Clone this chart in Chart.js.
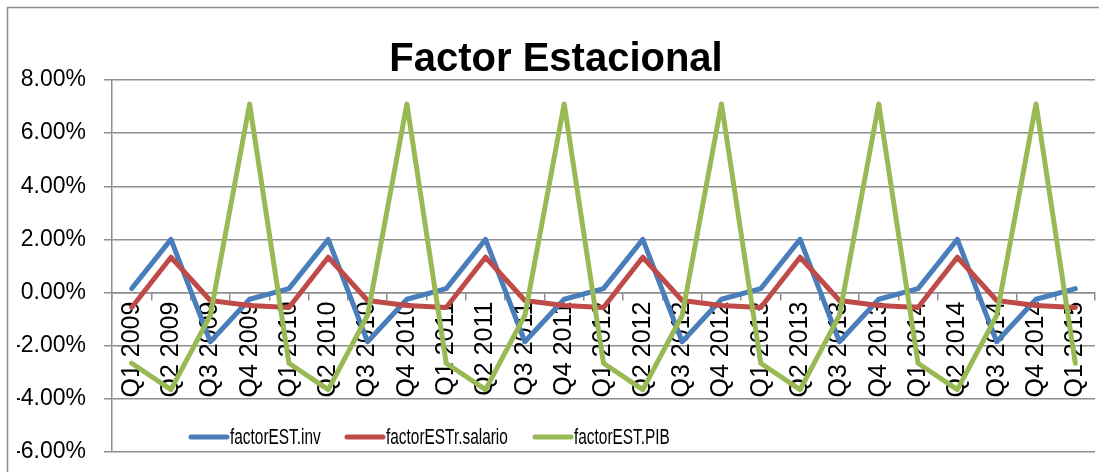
<!DOCTYPE html>
<html>
<head>
<meta charset="utf-8">
<title>Factor Estacional</title>
<script src="https://cdn.jsdelivr.net/npm/chart.js@4.4.1/dist/chart.umd.min.js"></script>
<style>
  html, body { margin: 0; padding: 0; background: #fff; }
  #wrap { width: 1099px; height: 472px; }
</style>
</head>
<body>
<div id="wrap"><canvas id="myChart" width="1099" height="472"></canvas></div>
<script>
// quarters, Q1 2009 .. Q1 2015
const quarters = [
  'Q1 2009', 'Q2 2009', 'Q3 2009', 'Q4 2009',
  'Q1 2010', 'Q2 2010', 'Q3 2010', 'Q4 2010',
  'Q1 2011', 'Q2 2011', 'Q3 2011', 'Q4 2011',
  'Q1 2012', 'Q2 2012', 'Q3 2012', 'Q4 2012',
  'Q1 2013', 'Q2 2013', 'Q3 2013', 'Q4 2013',
  'Q1 2014', 'Q2 2014', 'Q3 2014', 'Q4 2014',
  'Q1 2015',
];

// values in percent
const invValues = [
  0.15, 2.0, -1.85, -0.25,
  0.15, 2.0, -1.85, -0.25,
  0.15, 2.0, -1.85, -0.25,
  0.15, 2.0, -1.85, -0.25,
  0.15, 2.0, -1.85, -0.25,
  0.15, 2.0, -1.85, -0.25,
  0.15,
];
const salarioValues = [
  -0.56, 1.33, -0.3, -0.49,
  -0.56, 1.33, -0.3, -0.49,
  -0.56, 1.33, -0.3, -0.49,
  -0.56, 1.33, -0.3, -0.49,
  -0.56, 1.33, -0.3, -0.49,
  -0.56, 1.33, -0.3, -0.49,
  -0.56,
];
const pibValues = [
  -2.66, -3.65, -0.86, 7.1,
  -2.66, -3.65, -0.86, 7.1,
  -2.66, -3.65, -0.86, 7.1,
  -2.66, -3.65, -0.86, 7.1,
  -2.66, -3.65, -0.86, 7.1,
  -2.66, -3.65, -0.86, 7.1,
  -2.66,
];

const seriesNames = ['factorEST.inv', 'factorESTr.salario', 'factorEST.PIB'];
const seriesColors = ['#4A7EBB', '#BE4B48', '#98B954'];

const yTicks = { min: -6, max: 8, step: 2 };

const gridColor = '#8E8E8E';
const fontFamily = '"Liberation Sans", Arial, sans-serif';

// frame around the whole chart
const framePlugin = {
  id: 'frame',
  beforeDraw(chart) {
    const ctx = chart.ctx;
    ctx.save();
    ctx.fillStyle = '#fff';
    ctx.fillRect(0, 0, chart.width, chart.height);
    ctx.strokeStyle = '#8C8C8C';
    ctx.lineWidth = 1.5;
    ctx.strokeRect(7.5, 7.5, chart.width + 10, chart.height + 10);
    ctx.restore();
  },
};

// legend drawn inside the plot, like the spreadsheet did
const insideLegend = {
  id: 'insideLegend',
  afterDatasetsDraw(chart) {
    const ctx = chart.ctx;
    const y = chart.chartArea.bottom - 15;
    const starts = [191, 347, 535];
    ctx.save();
    ctx.font = `22px ${fontFamily}`;
    ctx.textBaseline = 'middle';
    chart.data.datasets.forEach((ds, i) => {
      const x = starts[i];
      ctx.strokeStyle = ds.borderColor;
      ctx.lineWidth = 5;
      ctx.lineCap = 'round';
      ctx.beginPath();
      ctx.moveTo(x, y);
      ctx.lineTo(x + 36, y);
      ctx.stroke();
      // narrow the text, the original font is condensed
      ctx.save();
      ctx.translate(x + 39, y + 1);
      ctx.scale(0.7, 1);
      ctx.fillStyle = '#000';
      ctx.fillText(ds.label, 0, 0);
      ctx.restore();
    });
    ctx.restore();
  },
};

function noPadding(scale) {
  scale.paddingLeft = 0;
  scale.paddingRight = 0;
  scale.paddingTop = 0;
  scale.paddingBottom = 0;
}

const datasets = [invValues, salarioValues, pibValues].map((vals, i) => ({
  label: seriesNames[i],
  data: vals,
  borderColor: seriesColors[i],
  backgroundColor: seriesColors[i],
  borderWidth: 5,
  borderJoinStyle: 'round',
  borderCapStyle: 'round',
  pointRadius: 0,
  tension: 0,
  order: 3 - i,
}));

const chartConfig = {
  type: 'line',
  data: {
    labels: quarters,
    datasets,
  },
  options: {
    responsive: false,
    animation: false,
    layout: { padding: { left: 17, right: 4, top: 0, bottom: 20 } },
    plugins: {
      legend: { display: false },
      tooltip: { enabled: false },
      title: {
        display: true,
        text: 'Factor Estacional',
        color: '#000',
        font: { family: fontFamily, size: 40, weight: 'bold', lineHeight: 1 },
        padding: { top: 40, bottom: 0 },
      },
    },
    scales: {
      x: {
        type: 'category',
        position: { y: 0 },
        offset: true,
        afterFit: noPadding,
        grid: {
          display: true,
          offset: true,
          drawOnChartArea: false,
          drawTicks: true,
          tickLength: 7,
          color: gridColor,
          lineWidth: 1.5,
        },
        border: { display: true, color: gridColor, width: 1.5 },
        ticks: {
          autoSkip: false,
          minRotation: 90,
          maxRotation: 90,
          padding: 2,
          color: '#000',
          font: { family: fontFamily, size: 25 },
        },
      },
      y: {
        min: yTicks.min,
        max: yTicks.max,
        afterFit(scale) {
          noPadding(scale);
          scale.width = 95;
        },
        grid: {
          color: gridColor,
          lineWidth: 1.5,
          drawTicks: true,
          tickLength: 8,
        },
        border: { display: true, color: gridColor, width: 1.5 },
        ticks: {
          stepSize: yTicks.step,
          padding: 18,
          color: '#000',
          font: { family: fontFamily, size: 23 },
          callback: (v) => `${v.toFixed(2)}%`,
        },
      },
    },
  },
  plugins: [framePlugin, insideLegend],
};

const ctx = document.getElementById('myChart').getContext('2d');
const chart = new Chart(ctx, chartConfig);
</script>
</body>
</html>
